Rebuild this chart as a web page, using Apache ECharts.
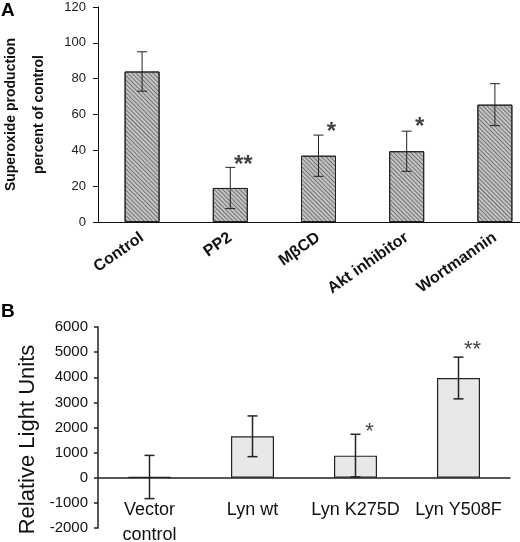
<!DOCTYPE html>
<html>
<head>
<meta charset="utf-8">
<script src="https://cdn.jsdelivr.net/npm/echarts@6/dist/echarts.min.js"></script>
<style>
html, body {margin: 0; padding: 0; background: #fff;}
#chart {width: 520px; height: 542px;}
</style>
</head>
<body>
<div id="chart"></div>
<script>
// panel A: superoxide production, percent of control
var catsA = ['Control', 'PP2', 'MβCD', 'Akt inhibitor', 'Wortmannin'];
var valsA = [84, 19, 37, 39.5, 65.5];
var errA = [11, 11.5, 11.5, 11.2, 11.7];
var starsA = ['', '**', '*', '*', ''];
var starPosA = [null, 34, 52, 55, null];
var ticksA = [0, 120, 20];

// panel B: relative light units
var catsB = ['Vector\ncontrol', 'Lyn wt', 'Lyn K275D', 'Lyn Y508F'];
var valsB = [30, 1650, 880, 3970];
var errB = [860, 810, 850, 830];
var starsB = ['', '', '*', '**'];
var starPosB = [null, null, 2000, 5250];
var ticksB = [-2000, 6000, 1000];

var font = 'Liberation Sans, Arial, sans-serif';

function errData(vals, errs) {
	var out = [];
	for (var i = 0; i < vals.length; i++) {
		out.push([i, vals[i] - errs[i], vals[i] + errs[i]]);
	}
	return out;
}

function starData(stars, pos) {
	var out = [];
	for (var i = 0; i < stars.length; i++) {
		if (stars[i]) out.push({value: [i, pos[i]], label: {formatter: stars[i]}});
	}
	return out;
}

// 误差线
function errRender(cap, lw) {
	return function (params, api) {
		var hi = api.coord([api.value(0), api.value(2)]);
		var lo = api.coord([api.value(0), api.value(1)]);
		var st = {stroke: '#222', lineWidth: lw};
		return {
			type: 'group',
			children: [
				{type: 'line', shape: {x1: hi[0], y1: hi[1], x2: lo[0], y2: lo[1]}, style: st},
				{type: 'line', shape: {x1: hi[0] - cap, y1: hi[1], x2: hi[0] + cap, y2: hi[1]}, style: st},
				{type: 'line', shape: {x1: lo[0] - cap, y1: lo[1], x2: lo[0] + cap, y2: lo[1]}, style: st}
			]
		};
	};
}

function plain(v) {
	return String(v);
}

var option = {
	animation: false,
	textStyle: {fontFamily: font},
	graphic: [
		{type: 'text', left: 1, top: 1, style: {text: 'A', font: 'bold 19px ' + font, fill: '#000'}},
		{type: 'text', left: 1, top: 302, style: {text: 'B', font: 'bold 19px ' + font, fill: '#000'}}
	],
	grid: [
		{left: 98, top: 7, right: -19, height: 215, outerBoundsMode: 'none', containLabel: false},
		{left: 98, top: 327, right: 10, height: 201, outerBoundsMode: 'none', containLabel: false}
	],
	xAxis: [
		{
			type: 'category', gridIndex: 0, data: catsA,
			axisLine: {lineStyle: {color: '#111', width: 1}},
			axisTick: {length: 5, lineStyle: {color: '#111'}},
			axisLabel: {rotate: 35, margin: 14, fontSize: 16, fontWeight: 'bold', color: '#111', interval: 0}
		},
		{
			// 轴线放在0处，不用onZero
			type: 'category', gridIndex: 1, data: catsB, offset: -50,
			axisLine: {onZero: false, lineStyle: {color: '#222', width: 1.5}},
			axisTick: {length: 6, lineStyle: {color: '#222', width: 1.5}},
			axisLabel: {margin: 20, fontSize: 18, lineHeight: 25, color: '#111', interval: 0}
		}
	],
	yAxis: [
		{
			type: 'value', gridIndex: 0, min: ticksA[0], max: ticksA[1], interval: ticksA[2],
			name: 'Superoxide production\npercent of control',
			nameLocation: 'middle', nameGap: 42,
			nameTextStyle: {fontSize: 14, fontWeight: 'bold', lineHeight: 28, color: '#111'},
			axisLine: {show: true, lineStyle: {color: '#111', width: 1}},
			axisTick: {show: true, length: 5, lineStyle: {color: '#111'}},
			axisLabel: {fontSize: 13, margin: 12, color: '#222', formatter: plain},
			splitLine: {show: false}
		},
		{
			type: 'value', gridIndex: 1, min: ticksB[0], max: ticksB[1], interval: ticksB[2],
			name: 'Relative Light Units',
			nameLocation: 'middle', nameGap: 58,
			nameTextStyle: {fontSize: 22, color: '#111', padding: [0, 24, 0, 0]},
			axisLine: {show: true, lineStyle: {color: '#222', width: 1.5}},
			axisTick: {show: true, length: 4, lineStyle: {color: '#222', width: 1.5}},
			axisLabel: {fontSize: 15, margin: 10, color: '#111', formatter: plain},
			splitLine: {show: false}
		}
	],
	series: [
		{
			type: 'bar', xAxisIndex: 0, yAxisIndex: 0, data: valsA, barWidth: 35,
			itemStyle: {
				color: '#c4c4c4', borderColor: '#222', borderWidth: 1,
				decal: {
					symbol: 'rect', symbolSize: 1, color: 'rgba(60,60,60,0.6)',
					dashArrayX: [1, 0], dashArrayY: [1, 1.5], rotation: Math.PI / 4
				}
			}
		},
		{
			type: 'custom', xAxisIndex: 0, yAxisIndex: 0, renderItem: errRender(5, 1),
			data: errData(valsA, errA), z: 5
		},
		{
			type: 'scatter', xAxisIndex: 0, yAxisIndex: 0, symbolSize: 0,
			data: starData(starsA, starPosA),
			label: {show: true, position: 'inside', offset: [13, 4], fontSize: 24, fontWeight: 'bold', color: '#111'}
		},
		{
			type: 'bar', xAxisIndex: 1, yAxisIndex: 1, data: valsB, barWidth: 43,
			itemStyle: {color: '#e8e8e8', borderColor: '#222', borderWidth: 1.2}
		},
		{
			type: 'custom', xAxisIndex: 1, yAxisIndex: 1, renderItem: errRender(5, 1.5),
			data: errData(valsB, errB), z: 5
		},
		{
			type: 'scatter', xAxisIndex: 1, yAxisIndex: 1, symbolSize: 0,
			data: starData(starsB, starPosB),
			label: {show: true, position: 'inside', offset: [14, 4], fontSize: 22, color: '#111'}
		}
	]
};

var myChart = echarts.init(document.getElementById('chart'));
myChart.setOption(option);
</script>
</body>
</html>
